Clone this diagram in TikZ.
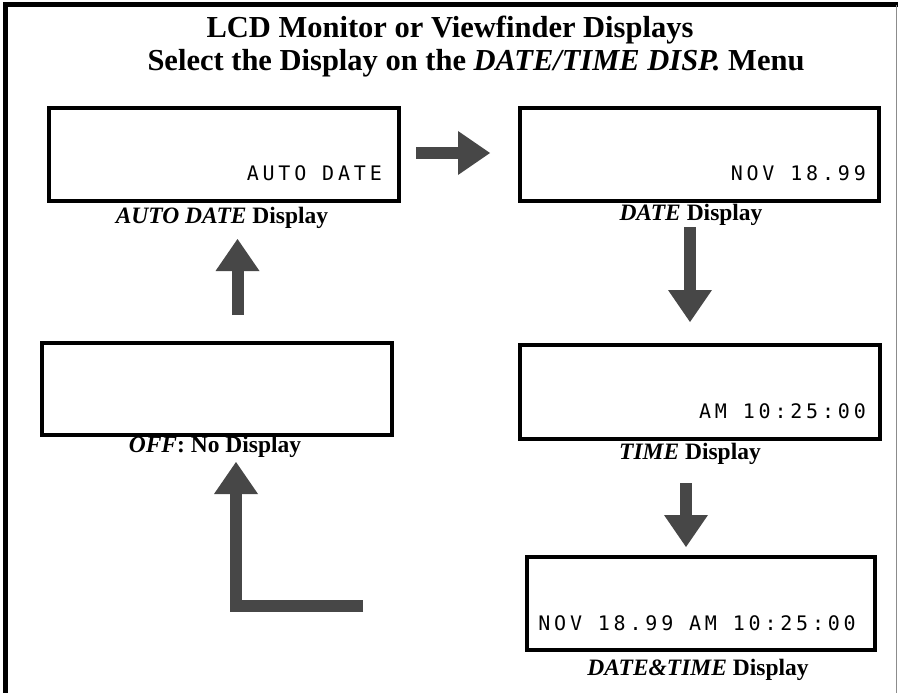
\documentclass[tikz,border=0pt]{standalone}
\usepackage{fontspec}
\setmainfont{Liberation Serif}
\newfontfamily\lcdfont[LetterSpace=19]{DejaVu Sans Mono}
\usetikzlibrary{arrows.meta}
\begin{document}
\begin{tikzpicture}[x=1pt,y=-1pt,
  screen/.style={draw=black, line width=4pt, fill=white, inner sep=0pt, anchor=north west},
  lcd/.style={font=\lcdfont\fontsize{20}{23}\selectfont, anchor=base east, inner sep=0pt},
  caption/.style={font=\bfseries\fontsize{23.5}{26}\selectfont, anchor=base, inner sep=0pt},
  heading/.style={font=\bfseries\fontsize{30.5}{34}\selectfont, anchor=base, inner sep=0pt},
  bigarrow/.style={draw=black!72, line width=12pt, line join=miter,
    -{Triangle[length=32pt,width=44pt,line width=0pt]}}]
\useasboundingbox (0,0) rectangle (898,693);
% frame
\draw[line width=5pt] (5.5,693) -- (5.5,5) -- (898,5);
\draw[black!45, line width=1pt] (896.5,5) -- (896.5,693);
% titles
\node[heading] (title1) at (450,38) {LCD Monitor or Viewfinder Displays};
\node[heading] (title2) at (476,71) {Select the Display on the \textit{DATE/TIME DISP.} Menu};
% screens
\node[screen, minimum width=350pt, minimum height=93pt] (autodate) at (47,106) {};
\node[screen, minimum width=359pt, minimum height=93pt] (date) at (518,106) {};
\node[screen, minimum width=350pt, minimum height=92pt] (off) at (40,341) {};
\node[screen, minimum width=360pt, minimum height=94pt] (time) at (518,343) {};
\node[screen, minimum width=348pt, minimum height=93pt] (datetime) at (525,555) {};
% screen texts
\node[lcd] (t1) at (382,180) {AUTO DATE};
\node[lcd] (t2) at (866,180) {NOV 18.99};
\node[lcd] (t3) at (866,418) {AM 10:25:00};
\node[lcd] (t4) at (856,630) {NOV 18.99 AM 10:25:00};
% captions
\node[caption] (c1) at (222,223) {\textit{AUTO DATE} Display};
\node[caption] (c2) at (691,220) {\textit{DATE} Display};
\node[caption] (c3) at (215,452) {\textit{OFF}: No Display};
\node[caption] (c4) at (690,459) {\textit{TIME} Display};
\node[caption] (c5) at (698,675) {\textit{DATE\&TIME} Display};
% arrow points
\coordinate (a1s) at (237.5,315);
\coordinate (a1e) at (237.5,239);
\coordinate (a2s) at (363,606);
\coordinate (a2c) at (236,606);
\coordinate (a2e) at (236,462);
\coordinate (a3s) at (690,227);
\coordinate (a3e) at (690,322);
\coordinate (a4s) at (686,483);
\coordinate (a4e) at (686,547);
\coordinate (a5s) at (416,153);
\coordinate (a5e) at (490,153);
% arrows
\draw[bigarrow] (a5s) -- (a5e);
\draw[bigarrow] (a3s) -- (a3e);
\draw[bigarrow] (a4s) -- (a4e);
\draw[bigarrow] (a1s) -- (a1e);
\draw[bigarrow] (a2s) -- (a2c) -- (a2e);
\end{tikzpicture}
\end{document}
